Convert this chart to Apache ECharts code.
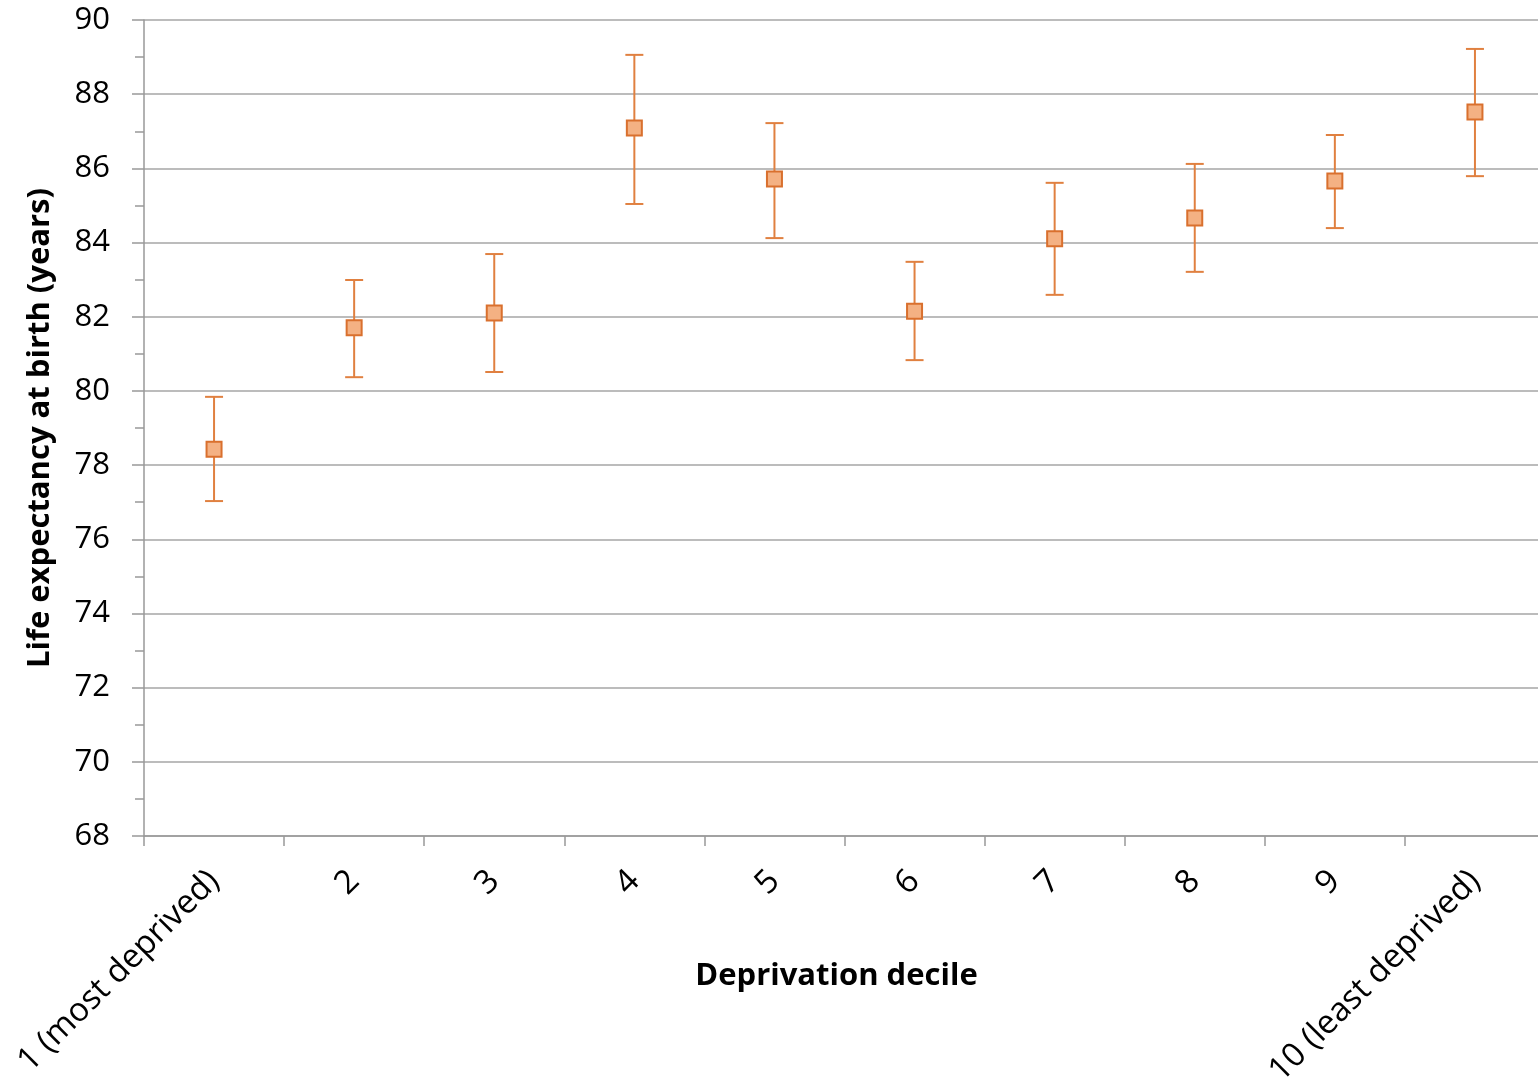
<!DOCTYPE html>
<html>
<head>
<meta charset="utf-8">
<script src="https://cdn.jsdelivr.net/npm/echarts@6/dist/echarts.min.js"></script>
<style>html,body{margin:0;padding:0;background:#fff}#c{width:1538px;height:1081px}</style>
</head>
<body>
<div id="c"></div>
<script>
var categories = ['1 (most deprived)', '2', '3', '4', '5', '6', '7', '8', '9', '10 (least deprived)'];
var lifeExpectancy = [78.43, 81.70, 82.10, 87.09, 85.71, 82.15, 84.10, 84.66, 85.66, 87.52];
var upperCI = [79.84, 82.99, 83.69, 89.06, 87.22, 83.48, 85.61, 86.12, 86.90, 89.22];
var lowerCI = [77.03, 80.37, 80.51, 85.04, 84.12, 80.83, 82.59, 83.21, 84.39, 85.79];
var yTicks = [68, 70, 72, 74, 76, 78, 80, 82, 84, 86, 88, 90];

var FONT = 'Open Sans';
var chart = echarts.init(document.getElementById('c'), null, {renderer: 'canvas'});
var errData = categories.map(function (c, i) { return [i, lowerCI[i], upperCI[i]]; });

chart.setOption({
  animation: false,
  backgroundColor: '#fff',
  grid: {left: 144, width: 1401, top: 20, height: 816, containLabel: false, outerBoundsMode: 'none'},
  xAxis: {
    type: 'category',
    data: categories,
    boundaryGap: true,
    name: 'Deprivation decile',
    nameLocation: 'middle',
    nameGap: 125,
    nameMoveOverlap: false,
    nameTextStyle: {fontFamily: FONT, fontSize: 31, fontWeight: 'bold', color: '#000', padding: [0, 16, 0, 0]},
    axisLine: {show: true, lineStyle: {color: '#999', width: 1.5}},
    axisTick: {show: true, length: 10, alignWithLabel: false, lineStyle: {color: '#999', width: 1.5}},
    axisLabel: {rotate: 45, fontFamily: FONT, fontSize: 33, color: '#000', margin: 40, interval: 0},
    splitLine: {show: false}
  },
  yAxis: {
    type: 'value',
    min: yTicks[0],
    max: yTicks[yTicks.length - 1],
    interval: 2,
    name: 'Life expectancy at birth (years)',
    nameLocation: 'middle',
    nameGap: 88,
    nameMoveOverlap: false,
    nameTextStyle: {fontFamily: FONT, fontSize: 31, fontWeight: 'bold', color: '#000'},
    axisLine: {show: true, lineStyle: {color: '#999', width: 1.5}},
    axisTick: {show: true, length: 12, lineStyle: {color: '#999', width: 1.5}},
    minorTick: {show: true, splitNumber: 2, length: 9, lineStyle: {color: '#999', width: 1.5}},
    axisLabel: {fontFamily: FONT, fontSize: 31, color: '#000', margin: 34},
    splitLine: {show: true, lineStyle: {color: '#a6a6a6', width: 1.5}}
  },
  series: [
    {
      type: 'custom',
      data: errData,
      z: 2,
      renderItem: function (params, api) {
        var x = api.value(0);
        var lo = api.coord([x, api.value(1)]);
        var hi = api.coord([x, api.value(2)]);
        var hw = 9;
        var style = {stroke: '#E08040', lineWidth: 2};
        return {
          type: 'group',
          children: [
            {type: 'line', shape: {x1: lo[0], y1: lo[1], x2: hi[0], y2: hi[1]}, style: style},
            {type: 'line', shape: {x1: lo[0] - hw, y1: lo[1], x2: lo[0] + hw, y2: lo[1]}, style: style},
            {type: 'line', shape: {x1: hi[0] - hw, y1: hi[1], x2: hi[0] + hw, y2: hi[1]}, style: style}
          ]
        };
      }
    },
    {
      type: 'scatter',
      data: lifeExpectancy,
      symbol: 'rect',
      symbolSize: 15,
      z: 3,
      itemStyle: {color: '#F4B183', borderColor: '#D9702E', borderWidth: 2, opacity: 1}
    }
  ]
});
</script>
</body>
</html>
